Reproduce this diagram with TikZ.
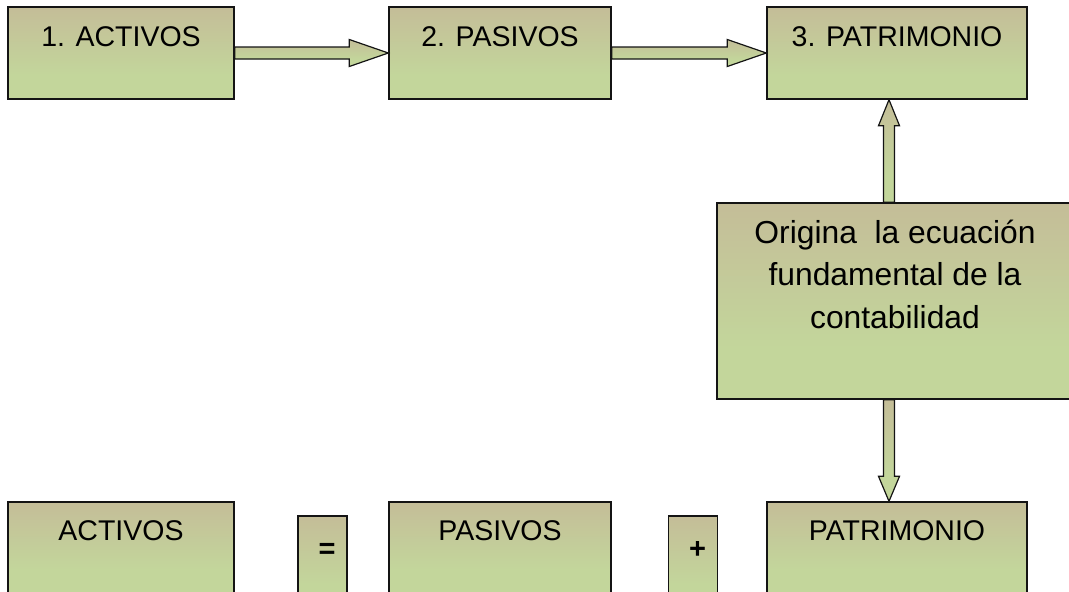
\documentclass[tikz,border=0pt]{standalone}
\usepackage{fontspec}
\setmainfont{Liberation Sans}
\usetikzlibrary{calc}
\definecolor{tanc}{RGB}{196,189,152}
\definecolor{grnc}{RGB}{195,214,155}
\definecolor{edge}{RGB}{20,20,20}
\pgfdeclareverticalshading{boxshade}{100bp}{color(0bp)=(grnc); color(25bp)=(grnc); color(38bp)=(grnc); color(75bp)=(tanc); color(100bp)=(tanc)}
\tikzset{
  box/.style={draw=edge, line width=1.4pt, shading=boxshade, rectangle, inner xsep=0pt, inner ysep=0pt,
    minimum height=92pt, text height=39pt, text depth=53pt, font=\fontsize{28.5}{34}\selectfont},
  bigarrow/.style={draw=edge, line width=1.2pt, shading=boxshade, line join=miter},
  symbox/.style={box, minimum width=49pt, text height=42pt, text depth=50pt, font=\fontsize{29}{34}\selectfont\bfseries},
}
\begin{document}
\begin{tikzpicture}[x=1pt,y=-1pt]
\useasboundingbox (0,0) rectangle (1069,592);
\clip (0,0) rectangle (1069,592);
% top row
\node[box, minimum width=226pt] (a1) at (121,53) {1. ACTIVOS};
\node[box, minimum width=222pt] (a2) at (500,53) {2. PASIVOS};
\node[box, minimum width=260pt] (a3) at (897,53) {3. PATRIMONIO};
% middle box
\node[box, minimum width=356pt, minimum height=196pt, align=center, text height=125pt, text depth=71pt,
  font=\fontsize{31.8}{42.5}\selectfont] (orig) at (895,301) {Origina\ \ la ecuación\\fundamental de la\\contabilidad};
% bottom row
\node[box, minimum width=226pt, text height=38.5pt, text depth=53.5pt] (b1) at (121,548) {ACTIVOS};
\node[symbox] (eq) at (322.5,562) {\hspace*{9pt}=};
\node[box, minimum width=222pt, text height=38.5pt, text depth=53.5pt] (b2) at (500,548) {PASIVOS};
\node[symbox] (pl) at (693,562) {\hspace*{9pt}+};
\node[box, minimum width=260pt, text height=38.5pt, text depth=53.5pt] (b3) at (897,548) {PATRIMONIO};
% horizontal arrows
\draw[bigarrow] ($(a1.east)+(0,-6)$) -- ($(a2.west)+(-39,-6)$) -- ($(a2.west)+(-39,-13.5)$) -- (a2.west)
  -- ($(a2.west)+(-39,13.5)$) -- ($(a2.west)+(-39,6)$) -- ($(a1.east)+(0,6)$) -- cycle;
\draw[bigarrow] ($(a2.east)+(0,-6)$) -- ($(a3.west)+(-39,-6)$) -- ($(a3.west)+(-39,-13.5)$) -- (a3.west)
  -- ($(a3.west)+(-39,13.5)$) -- ($(a3.west)+(-39,6)$) -- ($(a2.east)+(0,6)$) -- cycle;
% vertical arrows
\coordinate (ax) at (889,0);
\coordinate (upb) at (orig.north -| ax);
\coordinate (upt) at (a3.south -| ax);
\draw[bigarrow] ($(upb)+(-5.5,0)$) -- ($(upt)+(-5.5,26)$) -- ($(upt)+(-10.5,26)$) -- (upt)
  -- ($(upt)+(10.5,26)$) -- ($(upt)+(5.5,26)$) -- ($(upb)+(5.5,0)$) -- cycle;
\coordinate (dnt) at (orig.south -| ax);
\coordinate (dnb) at (b3.north -| ax);
\draw[bigarrow] ($(dnt)+(-5.5,0)$) -- ($(dnb)+(-5.5,-25)$) -- ($(dnb)+(-10.5,-25)$) -- (dnb)
  -- ($(dnb)+(10.5,-25)$) -- ($(dnb)+(5.5,-25)$) -- ($(dnt)+(5.5,0)$) -- cycle;
\end{tikzpicture}
\end{document}
